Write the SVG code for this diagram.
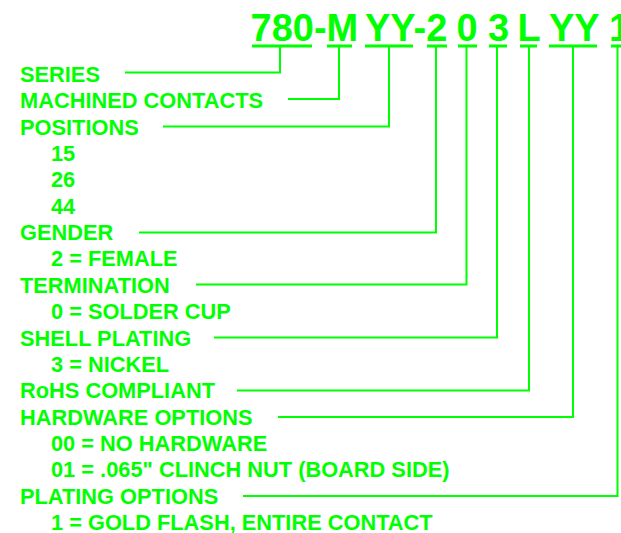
<svg xmlns="http://www.w3.org/2000/svg" width="621" height="533" viewBox="0 0 621 533">
<style>
.code{font-family:"Liberation Sans",Arial,sans-serif;font-weight:bold;font-size:38px;fill:#00ff00}
.lbl{font-family:"Liberation Sans",Arial,sans-serif;font-weight:bold;font-size:21.8px;fill:#00ff00}
.ul{stroke:#00ff00;stroke-width:3;fill:none}
.ld{stroke:#00ff00;stroke-width:2;fill:none}
</style>
<rect width="621" height="533" fill="#ffffff"/>
<g id="part-number">
<text class="code" x="250.5" y="41">780-M</text>
<text class="code" x="365" y="41">YY-2</text>
<text class="code" x="467" y="41" text-anchor="middle">0</text>
<text class="code" x="498.5" y="41" text-anchor="middle">3</text>
<text class="code" x="517.5" y="41">L</text>
<text class="code" x="549" y="41">YY</text>
<text class="code" x="609" y="41">1</text>
<path class="ul" d="M252,46H312M327,46H352M365,46H413M427,46H447M458,46H477M489,46H507M520,46H537M549,46H597M611,46H625"/>
</g>
<g id="labels">
<text class="lbl" x="20" y="81.7">SERIES</text>
<text class="lbl" x="20" y="108.1">MACHINED CONTACTS</text>
<text class="lbl" x="20" y="134.5">POSITIONS</text>
<text class="lbl" x="51" y="160.8">15</text>
<text class="lbl" x="51" y="187.2">26</text>
<text class="lbl" x="51" y="213.6">44</text>
<text class="lbl" x="20" y="240">GENDER</text>
<text class="lbl" x="51" y="266.4">2 = FEMALE</text>
<text class="lbl" x="20" y="292.7">TERMINATION</text>
<text class="lbl" x="51" y="319.1">0 = SOLDER CUP</text>
<text class="lbl" x="20" y="345.5">SHELL PLATING</text>
<text class="lbl" x="51" y="371.9">3 = NICKEL</text>
<text class="lbl" x="20" y="398.3">RoHS COMPLIANT</text>
<text class="lbl" x="20" y="424.6">HARDWARE OPTIONS</text>
<text class="lbl" x="51" y="451">00 = NO HARDWARE</text>
<text class="lbl" x="51" y="477.4">01 = .065" CLINCH NUT (BOARD SIDE)</text>
<text class="lbl" x="20" y="503.8">PLATING OPTIONS</text>
<text class="lbl" x="51" y="530.2">1 = GOLD FLASH, ENTIRE CONTACT</text>
</g>
<g id="connectors">
<path class="ld" d="M125,72.5H280V46"/>
<path class="ld" d="M288,99H339V46"/>
<path class="ld" d="M163,126.5H389V46"/>
<path class="ld" d="M139,232.5H436V46"/>
<path class="ld" d="M196,284.5H466.5V46"/>
<path class="ld" d="M214,337.5H497V46"/>
<path class="ld" d="M237,390.5H529V46"/>
<path class="ld" d="M278,417H573V46"/>
<path class="ld" d="M243,496H617.5V46"/>
</g>
</svg>
